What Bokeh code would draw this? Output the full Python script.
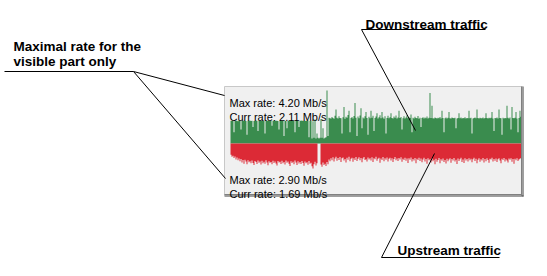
from bokeh.plotting import figure
from bokeh.models import Range1d
from bokeh.core.properties import value
from bokeh.embed import file_html
from bokeh.resources import INLINE

# Traffic samples in Mb/s, one per pixel column of the graph (oldest first)
downstream = [
    1.80, 1.78, 1.82, 0.90, 1.79, 1.81, 1.80, 1.77, 1.82, 1.80,
    1.10, 1.81, 1.79, 1.83, 1.80, 1.78, 0.70, 1.81, 1.80, 1.82,
    1.79, 1.80, 1.30, 1.78, 1.81, 1.83, 1.80, 1.00, 1.79, 1.81,
    1.80, 1.82, 1.78, 1.80, 0.80, 1.81, 1.79, 1.83, 1.80, 1.78,
    1.81, 1.40, 1.80, 1.82, 1.79, 1.80, 1.81, 1.78, 1.10, 1.80,
    1.82, 1.79, 1.81, 0.60, 1.80, 1.78, 1.20, 1.81, 1.83, 1.80,
    1.79, 1.81, 1.80, 1.78, 0.90, 1.82, 1.80, 1.79, 1.30, 1.81,
    1.80, 1.83, 1.79, 1.80, 1.81, 1.78, 1.80, 1.82, 0.50, 1.79,
    1.80, 0.40, 1.76,
    0.45, 1.90, 0.40, 0.80, 0.45, 0.40, 0.45, 1.95, 0.45, 1.20,
    0.40, 0.45, 0.50, 4.20, 0.60,
    2.05, 2.00,
    1.98, 2.10, 2.02, 1.96, 2.20, 2.70, 2.05, 1.99, 2.15, 2.03,
    2.00, 0.80, 2.08, 2.90, 1.97, 2.12, 2.04, 2.25, 2.60, 0.90,
    2.02, 2.10, 1.98, 2.18, 3.20, 2.05, 0.60, 2.14, 2.00, 2.22,
    2.80, 1.20, 2.06, 1.99, 2.16, 2.50, 2.03, 0.70, 2.11, 2.00,
    2.60, 2.04, 2.19, 1.00, 2.02, 2.13, 2.40, 1.98, 2.08, 2.24,
    2.01, 2.50, 2.06, 1.97, 2.15, 0.80, 2.03, 2.20, 2.00, 2.09,
    2.40, 2.02, 1.98, 2.14, 2.05, 2.21, 1.99, 2.07, 2.60, 2.03,
    2.10, 1.10, 2.01, 2.16, 1.98, 2.06, 2.23, 2.00, 2.08, 2.02,
    2.30, 0.90, 2.04, 1.99, 2.12, 2.03, 2.00, 2.17, 1.97, 2.05,
    1.30, 2.02, 2.09, 1.98, 2.06, 2.01, 2.13, 1.99, 2.04, 4.00,
    2.03, 3.00, 2.00, 1.98, 2.07, 2.02, 1.99, 2.05, 2.01, 2.10,
    1.98, 2.60, 2.03, 0.90, 2.00, 2.06, 1.99, 2.04, 2.50, 2.01,
    1.98, 2.07, 2.02, 2.00, 2.05, 1.20, 1.99, 2.03, 2.40, 2.01,
    2.06, 1.98, 2.02, 2.00, 2.08, 1.99, 2.03, 2.01, 2.60, 2.00,
    2.04, 0.80, 1.99, 2.02, 2.06, 2.00, 2.70, 2.03, 1.98, 2.05,
    2.01, 2.00, 2.07, 1.99, 2.03, 2.40, 2.02, 1.98, 2.05, 2.01,
    2.04, 2.50, 1.99, 1.00, 2.03, 2.00, 2.06, 1.98, 2.70, 2.02,
    2.01, 0.70, 2.05, 1.99, 2.03, 2.00, 3.00, 2.04, 1.98, 2.06,
    1.10, 2.90, 2.02, 2.00, 2.05, 2.50, 1.99, 0.90, 2.03, 2.60,
    2.11,
]

upstream = [
    1.30, 1.55, 1.42, 1.68, 1.50, 1.85, 1.62, 1.95, 1.74, 2.05,
    1.80, 2.20, 1.92, 2.35, 1.88, 2.10, 2.42, 1.95, 2.18, 2.05,
    2.30, 1.98, 2.25, 2.48, 2.02, 2.15, 2.38, 1.96, 2.22, 2.10,
    2.45, 2.00, 2.28, 2.12, 2.36, 1.94, 2.20, 2.52, 2.06, 2.24,
    2.14, 2.40, 1.99, 2.26, 2.08, 2.33, 2.55, 2.03, 2.19, 2.11,
    2.37, 2.01, 2.29, 2.15, 2.44, 1.97, 2.23, 2.09, 2.35, 2.60,
    2.05, 2.27, 2.13, 2.41, 1.98, 2.21, 2.48, 2.07, 2.32, 2.16,
    2.39, 2.02, 2.25, 2.58, 2.10, 2.30, 2.18, 2.46, 2.04, 2.34,
    2.22, 2.65, 2.90, 2.40, 2.12, 2.55, 2.30, 0.00, 0.00, 0.00,
    2.45, 2.70, 2.20, 2.50, 2.35, 2.62, 2.15, 2.40, 1.85, 2.05,
    1.70, 1.95, 1.60, 2.10, 1.75, 1.55, 2.00, 1.68, 1.90, 1.58,
    2.15, 1.72, 1.62, 1.98, 1.80, 2.20, 1.66, 1.88, 1.54, 2.05,
    1.78, 1.64, 2.12, 1.70, 1.92, 1.58, 2.02, 1.76, 1.60, 1.95,
    1.68, 2.18, 1.74, 1.56, 1.90, 1.82, 2.08, 1.62, 1.86, 1.72,
    1.98, 1.60, 2.14, 1.70, 1.84, 1.55, 2.00, 1.78, 1.66, 2.22,
    1.74, 1.90, 1.58, 2.06, 1.72, 1.88, 1.62, 2.10, 1.76, 1.64,
    1.96, 1.70, 2.16, 1.80, 1.57, 1.94, 1.73, 2.04, 1.67, 1.85,
    1.60, 2.12, 1.78, 1.92, 1.65, 2.00, 1.75, 2.25, 1.70, 1.88,
    1.62, 2.08, 1.80, 1.96, 1.68, 2.30, 1.77, 1.90, 1.64, 2.02,
    1.73, 2.18, 1.86, 1.66, 2.10, 1.79, 2.35, 1.72, 1.95, 1.83,
    2.20, 1.70, 2.05, 1.88, 2.40, 1.76, 2.12, 1.92, 1.69, 2.28,
    1.84, 2.00, 1.74, 2.15, 1.90, 2.32, 1.78, 2.06, 1.86, 1.71,
    2.22, 1.80, 1.96, 1.68, 2.10, 1.88, 2.38, 1.75, 2.02, 1.82,
    1.66, 2.14, 1.86, 2.26, 1.72, 1.98, 1.80, 2.08, 1.70, 1.94,
    1.78, 2.18, 1.84, 1.64, 2.04, 1.76, 2.30, 1.88, 1.70, 2.12,
    1.82, 1.96, 1.68, 2.20, 1.79, 2.06, 1.72, 1.90, 2.24, 1.77,
    1.86, 1.66, 2.10, 1.80, 2.00, 1.74, 2.16, 1.84, 1.70, 1.98,
    2.28, 1.78, 1.92, 1.68, 2.08, 1.82, 1.96, 2.20, 1.74, 1.88,
    1.70, 2.12, 1.80, 2.36, 1.76, 1.94, 1.72, 2.04, 1.85, 1.78,
    1.69,
]

callout_left = ["Maximal rate for the", "visible part only"]
callout_down = "Downstream traffic"
callout_up = "Upstream traffic"

W, H = 547, 276
GREEN = "#3a8c4e"
RED = "#dc2a36"
PANEL_BG = "#f0f0f0"
FONT = value("Liberation Sans")

# Page-pixel coordinate system (y grows downward)
p = figure(width=W, height=H, output_backend="svg", toolbar_location=None,
           x_range=Range1d(0, W), y_range=Range1d(H, 0),
           x_axis_type=None, y_axis_type=None, min_border=0,
           outline_line_color=None, background_fill_color="white",
           border_fill_color="white")

# Graph geometry: sample strip starts at x=230, zero line at y=143
STRIP_X0 = 230
ZERO_Y = 143
DOWN_PEAK_PX = 53   # height of the downstream maximum
UP_PEAK_PX = 25     # depth of the upstream maximum

k_down = DOWN_PEAK_PX / max(downstream)
k_up = UP_PEAK_PX / max(upstream)
p.extra_x_ranges = {"samples": Range1d(-STRIP_X0, W - STRIP_X0)}
p.extra_y_ranges = {
    "down": Range1d(-(H - ZERO_Y) / k_down, ZERO_Y / k_down),
    "up": Range1d((H - ZERO_Y) / k_up, -ZERO_Y / k_up),
}

# Panel background
p.quad(left=224, right=522, top=86, bottom=195, fill_color=PANEL_BG, line_color=None)


def step_outline(vals):
    """Closed step polygon: one flat segment per sample, down to zero."""
    xs, ys = [0], [0]
    for i, v in enumerate(vals):
        xs += [i, i + 1]
        ys += [v, v]
    xs.append(len(vals))
    ys.append(0)
    return xs, ys


dx, dy = step_outline(downstream)
ux, uy = step_outline(upstream)
p.patch(dx, dy, x_range_name="samples", y_range_name="down",
        fill_color=GREEN, line_color=None)
p.patch(ux, uy, x_range_name="samples", y_range_name="up",
        fill_color=RED, line_color=None)

# Sunken/raised panel border
p.segment(x0=[224, 224], y0=[86, 86], x1=[522, 224], y1=[86, 195],
          line_color="#c8c8c8", line_width=1)
p.segment(x0=[521, 224], y0=[86, 194], x1=[521, 521], y1=[195, 194],
          line_color="#808080", line_width=1)
p.segment(x0=[522.5, 224], y0=[86, 195.5], x1=[522.5, 523], y1=[196, 195.5],
          line_color="#404040", line_width=1)

# Rate labels inside the panel
rate_lines = [
    f"Max rate: {max(downstream):.2f} Mb/s",
    f"Curr rate: {downstream[-1]:.2f} Mb/s",
    f"Max rate: {max(upstream):.2f} Mb/s",
    f"Curr rate: {upstream[-1]:.2f} Mb/s",
]
p.text(x=[229] * 4, y=[102, 116.5, 179, 193], text=rate_lines,
       text_font=FONT, text_font_size=value("11px"), text_color="black",
       text_baseline="alphabetic", text_align="left")

# Callout texts
p.text(x=[13, 13, 365, 397], y=[46, 61, 24, 250],
       text=callout_left + [callout_down, callout_up],
       text_font=FONT, text_font_size=value("13.5px"), text_font_style="bold",
       text_color="black", text_baseline="alphabetic", text_align="left")

# Leader lines
p.segment(
    x0=[4, 133, 133, 361, 361, 381, 381],
    y0=[71, 71, 71, 29, 29, 257, 257],
    x1=[133, 224, 225, 485, 415, 499, 434],
    y1=[71, 95, 178, 29, 130, 257, 153],
    line_color="black", line_width=1,
)

open("out.html", "w").write(file_html(p, INLINE))
